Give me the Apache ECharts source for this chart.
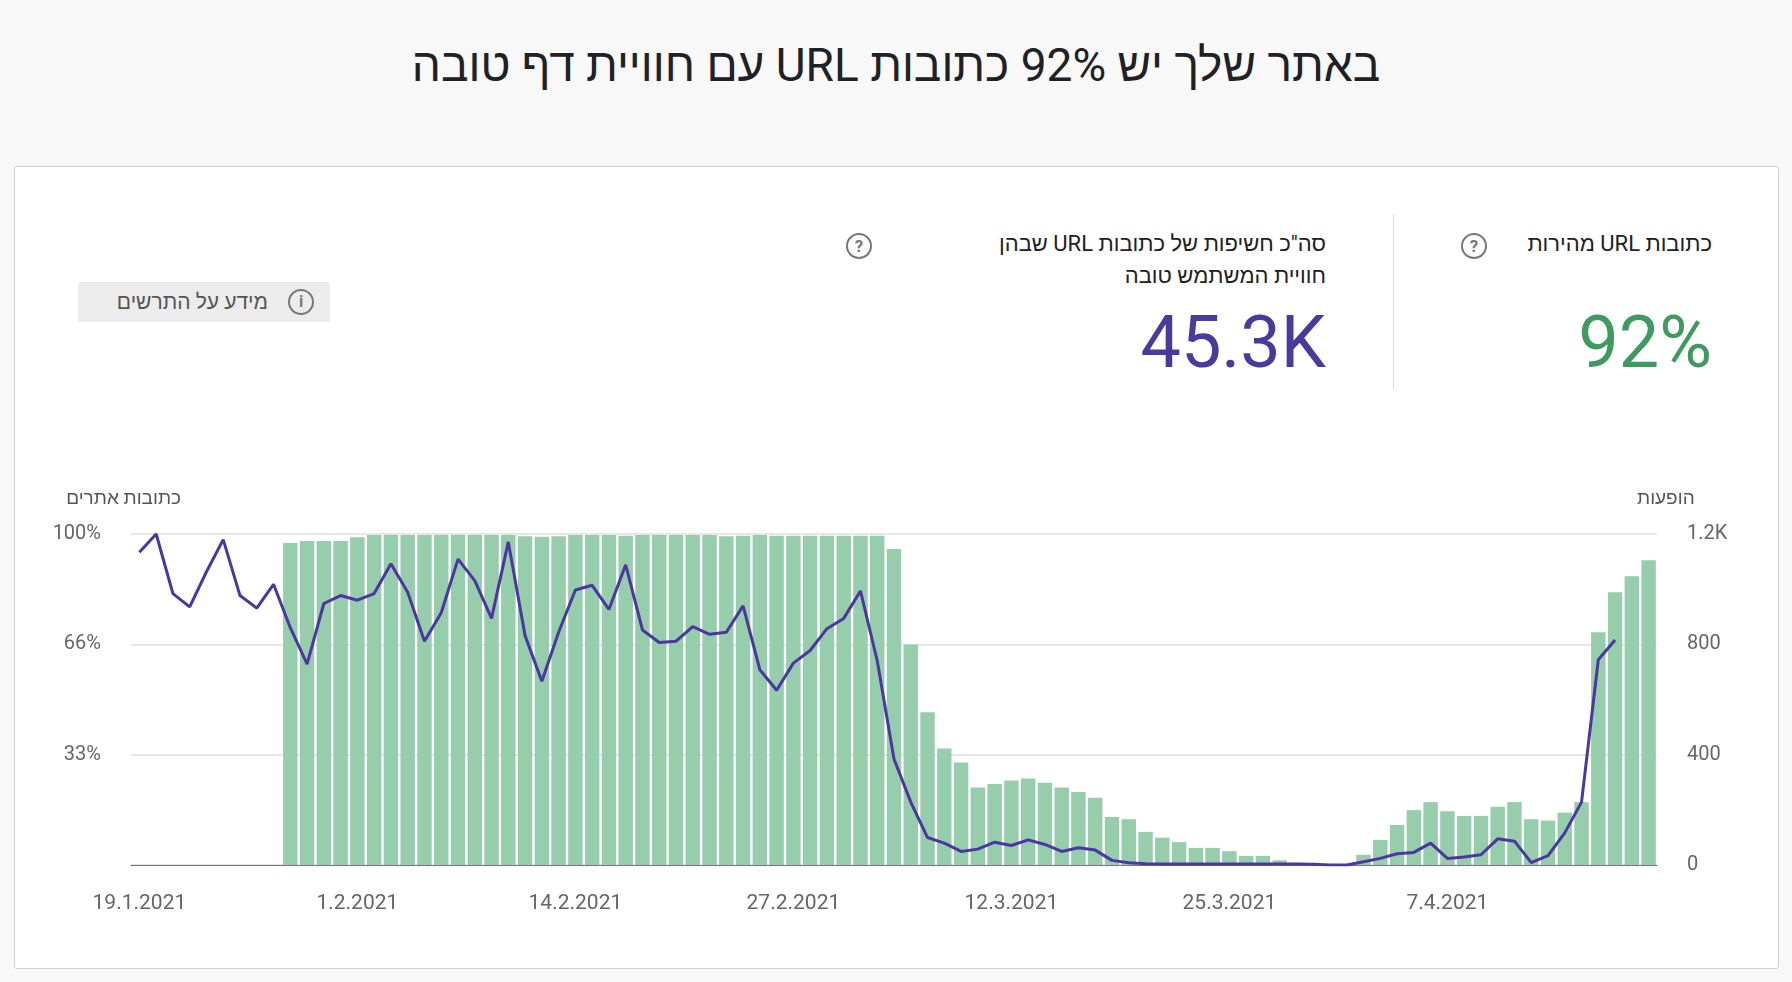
<!DOCTYPE html>
<html lang="he">
<head>
<meta charset="utf-8">
<script src="https://cdn.jsdelivr.net/npm/echarts@6/dist/echarts.min.js"></script>
<style>
  body { margin: 0; width: 1792px; height: 982px; background: #f8f8f8; font-family: Roboto, "Noto Sans", sans-serif; position: relative; overflow: hidden; }
  .abs { position: absolute; white-space: nowrap; }
  #title { left: 0; width: 1792px; top: 38px; text-align: center; font-size: 46px; color: #202124; direction: rtl; }
  #card { left: 14px; top: 166px; width: 1763px; height: 801px; background: #fff; border: 1px solid #cfcfcf; border-radius: 3px; }
  #chart { left: 0; top: 440px; width: 1792px; height: 500px; }
  .lbl { font-size: 22px; color: #202124; direction: rtl; text-align: right; line-height: 32px; }
  .q { width: 22px; height: 22px; border: 2px solid #777; border-radius: 50%; color: #777; font-size: 17px; text-align: center; line-height: 22px; font-weight: bold; }
  .big { font-size: 72px; direction: ltr; text-align: right; }
  #btn { left: 78px; top: 282px; width: 252px; height: 40px; background: #ececec; border-radius: 3px; color: #555; font-size: 21px; direction: rtl; }
</style>
</head>
<body>
<div id="title" class="abs">באתר שלך יש 92% כתובות URL עם חוויית דף טובה</div>
<div id="card" class="abs"></div>

<div class="abs lbl" style="right:80px; top:228px;">כתובות URL מהירות</div>
<div class="abs q" style="left:1461px; top:233px;">?</div>
<div class="abs big" style="right:80px; top:300px; color:#3e9a5f;">92%</div>
<div class="abs" style="left:1393px; top:214px; width:1px; height:176px; background:#ddd;"></div>

<div class="abs lbl" style="right:466px; top:228px;">סה"כ חשיפות של כתובות URL שבהן<br>חוויית המשתמש טובה</div>
<div class="abs q" style="left:846px; top:233px;">?</div>
<div class="abs big" style="right:466px; top:300px; color:#4a3a9c;">45.3K</div>

<div id="btn" class="abs"><span class="q" style="position:absolute; right:16px; top:7px; width:22px; height:22px; font-size:16px; line-height:22px;">i</span><span style="position:absolute; right:62px; top:8px;">מידע על התרשים</span></div>

<div id="chart" class="abs"></div>
<script>
// ימים: 19.1.2021 עד 19.4.2021
const dates = [];
const start = new Date(2021, 0, 19);
for (let i = 0; i < 91; i++) {
    const d = new Date(start.getTime() + i * 86400000);
    dates.push(d.getDate() + '.' + (d.getMonth() + 1) + '.' + d.getFullYear());
}

// הופעות (ציר ימין)
const impressions = [
    0, 0, 0, 0, 0, 0, 0, 0, 0, 1167,
    1175, 1175, 1175, 1188, 1196, 1196, 1196, 1196, 1196, 1196,
    1196, 1196, 1196, 1192, 1190, 1192, 1196, 1196, 1196, 1194,
    1196, 1196, 1196, 1196, 1196, 1192, 1194, 1196, 1194, 1194,
    1194, 1194, 1194, 1194, 1194, 1146, 799, 554, 422, 372,
    281, 294, 306, 314, 298, 281, 265, 244, 174, 166,
    120, 99, 83, 62, 62, 50, 33, 33, 17, 8,
    3, 1, 0, 37, 91, 145, 199, 228, 195, 178,
    178, 211, 228, 166, 161, 190, 228, 844, 989, 1047,
    1105
];

// אחוז כתובות טובות (ציר שמאל)
const goodPct = [
    94.5, 100, 82, 78, 88.6, 98.3, 81.4, 77.6, 84.8, 71.7,
    60.7, 79, 81.4, 80, 82, 91, 82.4, 67.6, 76.2, 92.4,
    85.9, 74.5, 97.6, 69.3, 55.5, 70.3, 83.1, 84.5, 77.2, 90.7,
    71, 67.2, 67.6, 72, 69.7, 70.3, 78.3, 59, 52.8, 61,
    64.8, 71.4, 74.5, 82.8, 61.7, 32, 19, 8.3, 6.6, 4.1,
    4.8, 6.9, 5.9, 7.6, 6.2, 4.1, 5.2, 4.5, 1.4, 0.7,
    0.4, 0.3, 0.3, 0.3, 0.3, 0.3, 0.3, 0.3, 0.3, 0.3,
    0.2, 0, 0, 1, 2, 3.4, 3.8, 6.6, 2, 2.4,
    3.1, 7.9, 7.2, 0.7, 2.8, 9.7, 19, 62, 68, null,
    null
];

const chart = echarts.init(document.getElementById('chart'));
chart.setOption({
    animation: false,
    textStyle: { fontFamily: 'Roboto, "Noto Sans", sans-serif' },
    grid: { left: 131, right: 135, top: 94, bottom: 75 },
    xAxis: {
        type: 'category',
        data: dates,
        axisTick: { show: false },
        axisLine: { lineStyle: { color: '#777' } },
        axisLabel: {
            interval: i => i % 13 === 0,
            color: '#666', fontSize: 21, margin: 28
        }
    },
    yAxis: [
        {
            type: 'value', min: 0, max: 100, interval: 100 / 3,
            name: 'כתובות אתרים',
            nameTextStyle: { color: '#555', fontSize: 19, align: 'right', padding: [0, -50, 10, 0] },
            axisLabel: { color: '#666', fontSize: 20, margin: 30, formatter: v => v === 0 ? '' : Math.floor(v + 0.01) + '%' },
            splitLine: { lineStyle: { color: '#e6e6e6', width: 2 } }
        },
        {
            type: 'value', min: 0, max: 1200, interval: 400,
            name: 'הופעות',
            nameTextStyle: { color: '#555', fontSize: 19, align: 'left', padding: [0, 0, 10, -20] },
            axisLabel: { color: '#666', fontSize: 20, margin: 30, formatter: v => v >= 1000 ? (v / 1000) + 'K' : v },
            splitLine: { show: false }
        }
    ],
    series: [
        {
            type: 'bar', yAxisIndex: 1, data: impressions,
            barCategoryGap: '14%',
            itemStyle: { color: '#96cdaa' }
        },
        {
            type: 'line', yAxisIndex: 0, data: goodPct,
            symbol: 'none',
            lineStyle: { color: '#4b36a3', width: 3 }
        }
    ]
});
</script>
</body>
</html>
